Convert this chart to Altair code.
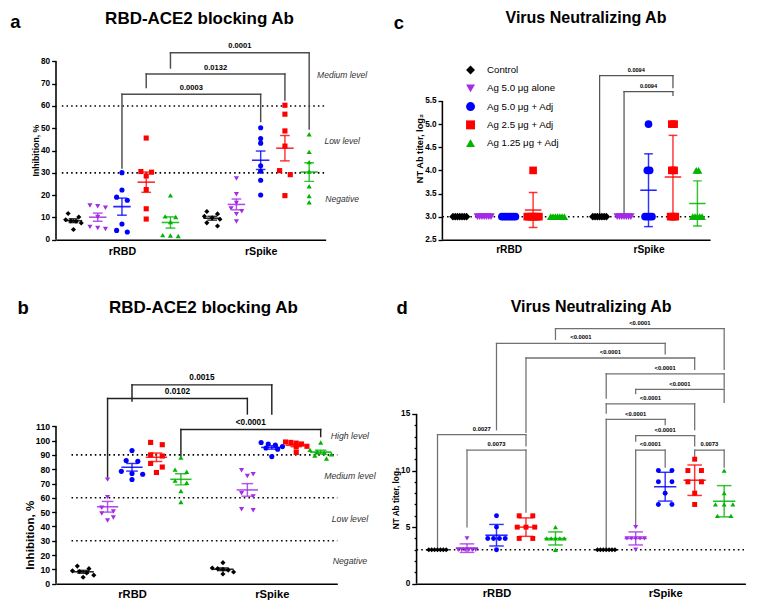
import altair as alt
import pandas as pd
import numpy as np

S = 0.97
FONT = "Liberation Sans"

GROUPS = ["Control", "Ag 5.0 μg alone", "Ag 5.0 μg + Adj", "Ag 2.5 μg + Adj", "Ag 1.25 μg + Adj"]
COLORS = ["#000000", "#A32CE6", "#0000FF", "#FF0000", "#00B400"]
SHAPES = ["diamond", "triangle-down", "circle", "square", "triangle-up"]
CATS = ["rRBD", "rSpike"]
CAT_OFFSET = 5.72

# ---------------- data ----------------
# panel a: RBD-ACE2 blocking Ab, inhibition %
A_RBD = [
    [11.8, 10.2, 9.0, 8.5, 8.3, 7.5, 4.6],
    [15.4, 15.0, 14.4, 10.2, 5.8, 5.3, 4.8],
    [30.1, 22.3, 19.1, 17.7, 7.1, 4.2, 3.5],
    [45.6, 30.6, 30.3, 28.6, 22.5, 13.9, 9.3],
    [19.9, 10.5, 10.2, 8.0, 2.1, 1.9, 1.7],
]
A_SPIKE = [
    [12.7, 11.6, 10.5, 9.8, 9.2, 7.6, 6.2],
    [27.5, 20.4, 16.5, 14.0, 12.8, 11.5, 8.2],
    [50.2, 45.4, 43.3, 33.2, 30.7, 26.7, 20.1],
    [60.3, 56.3, 48.8, 42.0, 31.0, 29.2, 19.8],
    [47.3, 39.4, 34.8, 30.6, 24.0, 19.6, 16.8],
]
# panel b: RBD-ACE2 blocking Ab, inhibition %
B_RBD = [
    [12.3, 10.5, 9.0, 8.5, 7.5, 6.0, 4.5],
    [72.7, 60.5, 53.0, 50.5, 49.0, 46.3, 44.2],
    [93.0, 86.0, 85.5, 78.5, 77.0, 76.5, 72.8],
    [98.7, 97.1, 90.0, 89.2, 84.0, 81.5, 77.7],
    [88.1, 79.7, 78.2, 72.0, 70.5, 64.8, 57.1],
]
B_SPIKE = [
    [14.7, 11.0, 10.5, 10.0, 9.5, 8.2, 6.8],
    [79.3, 76.5, 75.3, 63.2, 61.0, 52.0, 51.3],
    [98.6, 97.6, 96.8, 95.8, 94.8, 94.0, 88.8],
    [99.0, 98.7, 98.2, 97.6, 96.0, 95.5, 91.7],
    [98.7, 93.5, 92.2, 91.5, 90.5, 89.6, 87.4],
]
# panel c: NT Ab titer, log2
C_RBD = [
    [3, 3, 3, 3, 3, 3, 3],
    [3, 3, 3, 3, 3, 3, 3],
    [3, 3, 3, 3, 3, 3, 3],
    [4, 3, 3, 3, 3, 3, 3],
    [3, 3, 3, 3, 3, 3, 3],
]
C_SPIKE = [
    [3, 3, 3, 3, 3, 3, 3],
    [3, 3, 3, 3, 3, 3, 3],
    [5, 4, 4, 3, 3, 3, 3],
    [5, 5, 4, 4, 3, 3, 3],
    [4, 4, 3, 3, 3, 3, 3],
]
# panel d: NT Ab titer, log2
D_RBD = [
    [3, 3, 3, 3, 3, 3, 3],
    [4, 3, 3, 3, 3, 3, 3],
    [6, 5, 4, 4, 4, 4, 3],
    [6, 6, 5, 5, 5, 4, 4],
    [5, 4, 4, 4, 4, 4, 3],
]
D_SPIKE = [
    [3, 3, 3, 3, 3, 3, 3],
    [5, 4, 4, 4, 4, 4, 3],
    [10, 10, 9, 9, 8, 7, 7],
    [11, 10, 10, 9, 9, 8, 7],
    [10, 8, 7, 7, 7, 6, 6],
]

# significance brackets: (group1, cat1, group2, cat2, top, left leg end, right leg end, label)
A_BRACKETS = [
    (2, 0, 2, 1, 65.2, 32.2, 53.0, "0.0003"),
    (3, 0, 3, 1, 74.3, 68.3, 62.6, "0.0132"),
    (4, 0, 4, 1, 83.8, 77.0, 49.6, "0.0001"),
]
B_BRACKETS = [
    (2, 0, 2, 1, 138.9, 127.6, 118.6, "0.0015"),
    (1, 0, 1, 1, 129.4, 74.5, 118.6, "0.0102"),
    (4, 0, 4, 1, 107.7, 89.2, 102.8, "<0.0001"),
]
C_BRACKETS = [
    (0, 1, 3, 1, 6.05, 3.07, 5.79, "0.0094"),
    (1, 1, 3, 1, 5.70, 3.07, 5.62, "0.0094"),
]
D_BRACKETS = [
    (4, 0, 4, 1, 22.54, 21.59, 18.94, "<0.0001"),
    (2, 0, 2, 1, 21.23, 13.60, 20.31, "<0.0001"),
    (3, 0, 3, 1, 19.94, 13.37, 18.94, "<0.0001"),
    (0, 1, 4, 1, 18.53, 16.39, 17.31, "<0.0001"),
    (1, 1, 4, 1, 17.16, 16.80, 16.02, "<0.0001"),
    (0, 1, 3, 1, 15.88, 15.08, 13.62, "<0.0001"),
    (0, 1, 2, 1, 14.51, 3.17, 14.05, "<0.0001"),
    (1, 1, 3, 1, 13.08, 12.60, 12.17, "<0.0001"),
    (1, 1, 2, 1, 11.80, 5.17, 10.31, "<0.0001"),
    (3, 1, 4, 1, 11.80, 11.17, 10.31, "0.0073"),
    (0, 0, 3, 0, 13.17, 3.17, 12.17, "0.0027"),
    (1, 0, 3, 0, 11.80, 5.03, 6.32, "0.0073"),
]

A_LEVELS = ["Medium level", "Low level", "Negative"]
A_LEVEL_Y = [74.0, 44.3, 18.3]
B_LEVELS = ["High level", "Medium level", "Low level", "Negative"]
B_LEVEL_Y = [103.0, 75.2, 45.4, 15.6]


def spread_offsets(vals, ppu, base, maxw, thresh):
    n = len(vals)
    order = sorted(range(n), key=lambda i: -vals[i])
    rows, cur = [], [order[0]]
    for i in order[1:]:
        if abs(vals[cur[0]] - vals[i]) * ppu < thresh:
            cur.append(i)
        else:
            rows.append(cur)
            cur = [i]
    rows.append(cur)
    off = [0.0] * n
    for row in rows:
        k = len(row)
        step = base if k < 2 else min(base, maxw / (k - 1))
        for j, i in enumerate(row):
            off[i] = (j - (k - 1) / 2) * step
    return off


def make_panel(cfg):
    W, H = cfg["W"], cfg["H"]
    xdom, ydom = cfg["xdom"], cfg["ydom"]
    ppx = W / (xdom[1] - xdom[0])
    ppy = H / (ydom[1] - ydom[0])
    pts, stats = [], []
    for c, catdata in enumerate(cfg["data"]):
        for g, grp in enumerate(GROUPS):
            vals = catdata[g]
            center = g + CAT_OFFSET * c
            offs = spread_offsets(vals, ppy, *cfg["spread"])
            for v, o in zip(vals, offs):
                pts.append({"group": grp, "pos": center + o / ppx, "value": v})
            arr = np.array(vals, dtype=float)
            m = arr.mean()
            sd = arr.std(ddof=1)
            e = sd / np.sqrt(len(arr)) if cfg["err"] == "sem" else sd
            stats.append({"group": grp, "pos": center, "mean": m, "lo": m - e, "hi": m + e})
    df = pd.DataFrame(pts)
    st = pd.DataFrame(stats)

    xs = alt.Scale(domain=xdom, nice=False, zero=False)
    ys = alt.Scale(domain=ydom, nice=False, zero=False)
    xaxis = alt.Axis(values=[2, 2 + CAT_OFFSET], labelExpr="datum.value < 5 ? 'rRBD' : 'rSpike'",
                     ticks=False, grid=False, title=None, domainColor="black", domainWidth=1.6 * S,
                     labelFont=FONT, labelFontWeight="bold", labelFontSize=cfg["xfs"] * S,
                     labelColor="black", labelPadding=cfg["xpad"] * S)
    yaxis_kw = dict(values=cfg["yticks"], grid=False, title=None, domain=False,
                    tickColor="black", tickWidth=1.4 * S, labelFont=FONT, labelFontWeight="bold",
                    labelFontSize=cfg["yfs"] * S, labelColor="black", labelPadding=2 * S)
    if cfg.get("yfmt"):
        yaxis_kw["format"] = cfg["yfmt"]
    if cfg.get("minor"):
        yaxis_kw["labelExpr"] = "datum.value % 5 === 0 ? datum.label : ''"
        yaxis_kw["tickSize"] = {"condition": {"test": "datum.value % 5 === 0", "value": 5 * S}, "value": 2.5 * S}
    else:
        yaxis_kw["tickSize"] = 4.5 * S
    yaxis = alt.Axis(**yaxis_kw)

    def X(f):
        return alt.X(f, type="quantitative", scale=xs, axis=xaxis)

    def Y(f):
        return alt.Y(f, type="quantitative", scale=ys, axis=yaxis)

    cs = alt.Scale(domain=GROUPS, range=COLORS)
    ss = alt.Scale(domain=GROUPS, range=SHAPES)
    if cfg.get("legend"):
        lx, ly = cfg["legend"]
        leg = alt.Legend(orient="none", legendX=lx * S, legendY=ly * S, title=None,
                         labelFont=FONT, labelFontSize=10 * S, labelColor="black",
                         symbolSize=85 * S * S, symbolStrokeWidth=0, rowPadding=7.5 * S,
                         labelOffset=12 * S, padding=0)
    else:
        leg = None

    layers = []
    # reference dotted lines
    rdf = pd.DataFrame({"y": cfg["refs"]})
    layers.append(alt.Chart(rdf).mark_rule(strokeDash=[1.6 * S, 3.2 * S], strokeWidth=1.6 * S, color="black")
                  .encode(y=Y("y"), x=alt.value(cfg["ref_x0"] * S), x2=alt.value(W * S)))
    # y axis line
    adf = pd.DataFrame({"y0": [ydom[0]], "y1": [cfg["ytop"]]})
    layers.append(alt.Chart(adf).mark_rule(strokeWidth=1.6 * S, color="black")
                  .encode(x=alt.value(0), y=Y("y0"), y2="y1"))
    # brackets
    bh, bv, bl = [], [], []
    for g1, c1, g2, c2, top, yl, yr, lab in cfg["brackets"]:
        x1 = g1 + CAT_OFFSET * c1
        x2 = g2 + CAT_OFFSET * c2
        bh.append({"x1": x1, "x2": x2, "y": top})
        bv.append({"x": x1, "y": top, "y2": yl})
        bv.append({"x": x2, "y": top, "y2": yr})
        bl.append({"xm": (x1 + x2) / 2, "y": top, "t": lab})
    bcol, bw = cfg["bcolor"], cfg["bwidth"] * S
    layers.append(alt.Chart(pd.DataFrame(bh)).mark_rule(color=bcol, strokeWidth=bw, strokeCap="square")
                  .encode(x=X("x1"), x2="x2", y=Y("y")))
    layers.append(alt.Chart(pd.DataFrame(bv)).mark_rule(color=bcol, strokeWidth=bw, strokeCap="square")
                  .encode(x=X("x"), y=Y("y"), y2="y2"))
    layers.append(alt.Chart(pd.DataFrame(bl)).mark_text(baseline="bottom", dy=-cfg["bdy"] * S, font=FONT,
                                                        fontWeight="bold", fontSize=cfg["bfs"] * S, color="black")
                  .encode(x=X("xm"), y=Y("y"), text="t:N"))
    # points
    layers.append(alt.Chart(df).mark_point(filled=True, opacity=1, size=cfg["size"] * S * S, strokeWidth=0)
                  .encode(x=X("pos"), y=Y("value"),
                          color=alt.Color("group:N", scale=cs, legend=leg),
                          shape=alt.Shape("group:N", scale=ss, legend=leg)))
    # error bars (mean line, whiskers, caps)
    ecol = alt.Color("group:N", scale=cs, legend=leg)
    eb = alt.Chart(st)
    layers.append(eb.mark_rule(strokeWidth=1.5 * S, opacity=0.8).encode(x=X("pos"), y=Y("lo"), y2="hi", color=ecol))
    layers.append(eb.mark_tick(orient="horizontal", size=cfg["mw"] * S, thickness=1.6 * S, opacity=0.85)
                  .encode(x=X("pos"), y=Y("mean"), color=ecol))
    layers.append(eb.mark_tick(orient="horizontal", size=cfg["cw"] * S, thickness=1.5 * S, opacity=0.8)
                  .encode(x=X("pos"), y=Y("lo"), color=ecol))
    layers.append(eb.mark_tick(orient="horizontal", size=cfg["cw"] * S, thickness=1.5 * S, opacity=0.8)
                  .encode(x=X("pos"), y=Y("hi"), color=ecol))
    # level labels
    if cfg.get("levels"):
        names, ys_ = cfg["levels"]
        ldf = pd.DataFrame({"t": names, "y": ys_})
        layers.append(alt.Chart(ldf).mark_text(fontStyle="italic", fontSize=cfg["lfs"] * S, color="#333333",
                                               font=FONT, align="center", baseline="middle")
                      .encode(x=alt.value(cfg["lx"] * S), y=Y("y"), text="t:N"))
    one = pd.DataFrame({"k": [0]})
    tx, ty = cfg["title_xy"]
    layers.append(alt.Chart(one).mark_text(text=cfg["title"], fontSize=cfg["tfs"] * S, fontWeight="bold", font=FONT,
                                           align="center", baseline="middle", color="black")
                  .encode(x=alt.value(tx * S), y=alt.value(ty * S)))
    lx_, ly_ = cfg["letter_xy"]
    layers.append(alt.Chart(one).mark_text(text=cfg["letter"], fontSize=19 * S, fontWeight="bold", font=FONT,
                                           align="center", baseline="middle", color="black")
                  .encode(x=alt.value(lx_ * S), y=alt.value(ly_ * S)))
    yx, yy = cfg["ytitle_xy"]
    layers.append(alt.Chart(one).mark_text(text=cfg["ytitle"], fontSize=cfg["ytfs"] * S, fontWeight="bold", font=FONT,
                                           align="center", baseline="middle", angle=270, color="black")
                  .encode(x=alt.value(yx * S), y=alt.value(yy * S)))
    return alt.layer(*layers).properties(width=W * S, height=H * S)


pa = make_panel(dict(
    data=[A_RBD, A_SPIKE], W=278, H=207, xdom=[-0.72, 10.4], ydom=[0, 90], ytop=80,
    yticks=[0, 10, 20, 30, 40, 50, 60, 70, 80], yfs=8.5, xfs=11, xpad=7,
    spread=(11, 16, 4.5), err="sem", size=28, mw=18, cw=10,
    refs=[30, 60], ref_x0=6, brackets=A_BRACKETS, bcolor="#4d4d4d", bwidth=1.5, bfs=7.8, bdy=2.5,
    levels=(A_LEVELS, A_LEVEL_Y), lx=295, lfs=8.8,
    title="RBD-ACE2 blocking Ab", tfs=17.5, title_xy=(148, -20.5), letter="a", letter_xy=(-42, -18),
    ytitle="Inhibition, %", ytfs=9, ytitle_xy=(-21, 115),
))
pc = make_panel(dict(
    data=[C_RBD, C_SPIKE], W=276, H=207, xdom=[-0.71, 10.24], ydom=[2.5, 6.84], ytop=5.5,
    yticks=[2.5, 3.0, 3.5, 4.0, 4.5, 5.0, 5.5], yfmt=".1f", yfs=8.5, xfs=10.5, xpad=5,
    spread=(2.4, 14, 5), err="sd", size=62, mw=17, cw=9,
    refs=[3.0], ref_x0=0, brackets=C_BRACKETS, bcolor="#555555", bwidth=1.3, bfs=5.8, bdy=3,
    title="Virus Neutralizing Ab", tfs=16.5, title_xy=(148, -22), letter="c", letter_xy=(-45, -17),
    ytitle="NT Ab titer, log₂", ytfs=9.5, ytitle_xy=(-23, 113), legend=(24, 27),
))
pb = make_panel(dict(
    data=[B_RBD, B_SPIKE], W=290, H=276, xdom=[-1.11, 10.4], ydom=[0, 187], ytop=110,
    yticks=[0, 10, 20, 30, 40, 50, 60, 70, 80, 90, 100, 110], yfs=9, xfs=11.5, xpad=5,
    spread=(12, 22, 4.5), err="sem", size=28, mw=22, cw=12,
    refs=[30, 60, 90], ref_x0=16, brackets=B_BRACKETS, bcolor="#222222", bwidth=1.5, bfs=8.5, bdy=2.5,
    levels=(B_LEVELS, B_LEVEL_Y), lx=303, lfs=9,
    title="RBD-ACE2 blocking Ab", tfs=17.5, title_xy=(152, -8.5), letter="b", letter_xy=(-34, -8),
    ytitle="Inhibition, %", ytfs=12, ytitle_xy=(-26, 226),
))
pdd = make_panel(dict(
    data=[D_RBD, D_SPIKE], W=339, H=276, xdom=[-0.71, 10.44], ydom=[0, 23.65], ytop=15,
    yticks=list(range(0, 16)), minor=True, yfs=8.5, xfs=11.5, xpad=4,
    spread=(14, 18, 4), err="sd", size=26, mw=23, cw=15,
    refs=[3.0], ref_x0=0, brackets=D_BRACKETS, bcolor="#707070", bwidth=1.3, bfs=6, bdy=3,
    title="Virus Neutralizing Ab", tfs=16.5, title_xy=(180, -9), letter="d", letter_xy=(-15, -8),
    ytitle="NT Ab titer, log₂", ytfs=8.5, ytitle_xy=(-20, 188),
))

row1 = alt.hconcat(pa, pc, spacing=120 * S, bounds="flush").resolve_scale(color="independent", shape="independent")
row2 = alt.hconcat(pb, pdd, spacing=81 * S, bounds="flush").resolve_scale(color="independent", shape="independent")
chart = (alt.vconcat(row1, row2, spacing=41)
         .resolve_scale(color="independent", shape="independent")
         .properties(padding={"left": 1, "top": 1, "right": 1, "bottom": 1}, background="white")
         .configure_view(stroke="transparent"))

chart.save("out.html", embed_options={"renderer": "svg", "actions": False})
